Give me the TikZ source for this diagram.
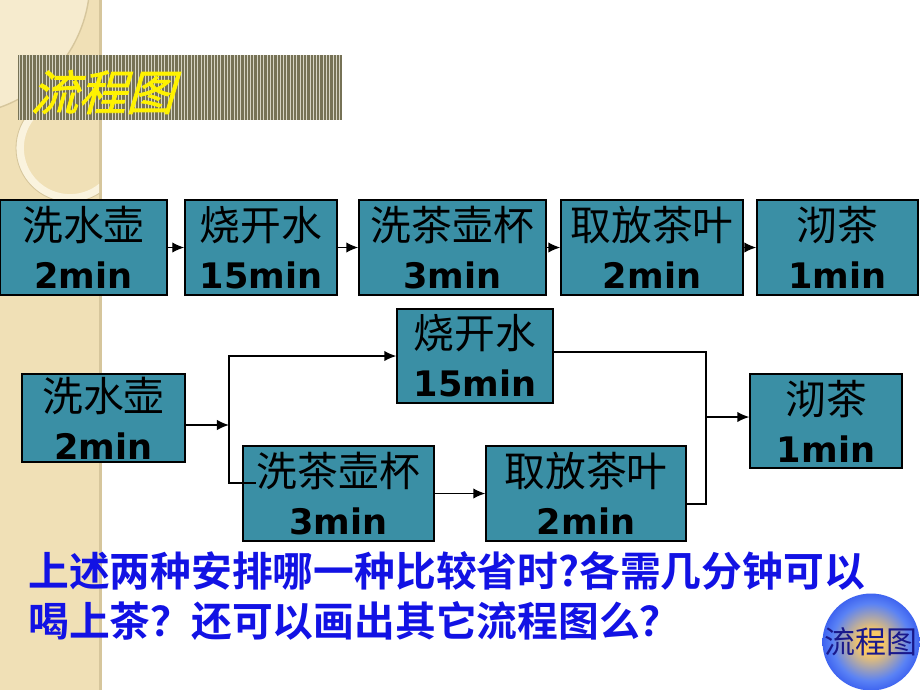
\documentclass[tikz,border=0pt]{standalone}
\usepackage{fontspec}
\usepackage{xcolor}
\usetikzlibrary{arrows,arrows.meta,shapes,calc}
\newfontfamily\cnfont{Noto Sans CJK SC}[BoldFont={Noto Sans CJK SC Bold}]
\newfontfamily\titlefont{Noto Sans CJK SC}[FakeSlant=0.3,FakeBold=1.5]
\newfontfamily\numfont{DejaVu Sans}
\definecolor{boxteal}{RGB}{58,143,165}
\definecolor{strip}{RGB}{240,224,182}
\definecolor{stripring}{RGB}{250,243,222}
\definecolor{stripedge}{RGB}{214,198,156}
\definecolor{titlebar}{RGB}{118,114,86}
\definecolor{titleline}{RGB}{214,212,196}
\definecolor{asktext}{RGB}{18,18,228}
\definecolor{btnin}{RGB}{250,200,100}
\definecolor{btnmid}{RGB}{90,130,245}
\definecolor{btnout}{RGB}{35,70,235}
\definecolor{btntext}{RGB}{25,25,140}
\newcommand{\pxu}{0.025cm}
\newcommand{\tasktext}[2]{{\cnfont #1}\\{\numfont\bfseries\fontsize{25}{34}\selectfont #2}}
\pgfdeclareradialshading{btnshade}{\pgfpoint{0bp}{0bp}}{color(0bp)=(btnin); color(6bp)=(btnin); color(20bp)=(btnmid); color(30bp)=(btnout); color(50bp)=(btnout)}

\begin{document}
\begin{tikzpicture}[x=\pxu,y=-\pxu]
      \tikzstyle{task}=[draw=black, line width=1pt, fill=boxteal, inner sep=0pt, align=center, font=\fontsize{29}{34}\selectfont]
      \tikzstyle{link}=[line width=1pt]
      \tikzstyle{arrow}=[line width=1pt, -{Latex[length=3mm,width=2.6mm]}]
      \tikzstyle{ask}=[text=asktext, inner sep=0pt, align=left, font=\cnfont\bfseries\fontsize{29}{36}\selectfont]
      \useasboundingbox (0,0) rectangle (920,690);

      % background and left strip
      \fill[white] (0,0) rectangle (920,690);
      \fill[strip] (0,0) rectangle (101,690);
      \fill[stripedge] (99,0) rectangle (102,690);
      \begin{scope}
        \clip (0,0) rectangle (99,690);
        \fill[stripring, opacity=0.6] (-45,-20) circle[radius=135];
        \draw[stripedge, line width=1pt] (-45,-20) circle[radius=135];
        \draw[stripring, line width=5.5pt] (70,148) circle[radius=50];
        \draw[stripedge, line width=0.6pt] (70,148) circle[radius=54];
      \end{scope}

      % title bar
      \fill[titlebar] (18,55) rectangle (342,120);
      \foreach \i in {0,...,97}
        \draw[titleline, line width=0.5pt] ({19.5+\i*3.3},55) -- ({19.5+\i*3.3},120);
      \node[text=yellow, inner sep=0pt, anchor=west, font=\titlefont\fontsize{34}{34}\selectfont] (ttl) at (30,92) {流程图};

      % first arrangement
      \node[task, minimum width=167*\pxu, minimum height=95*\pxu] (A1) at (83.5,247.5) {\tasktext{洗水壶}{2min}};
      \node[task, minimum width=152*\pxu, minimum height=95*\pxu] (A2) at (261,247.5) {\tasktext{烧开水}{15min}};
      \node[task, minimum width=187*\pxu, minimum height=95*\pxu] (A3) at (452.5,247.5) {\tasktext{洗茶壶杯}{3min}};
      \node[task, minimum width=182*\pxu, minimum height=95*\pxu] (A4) at (652,247.5) {\tasktext{取放茶叶}{2min}};
      \node[task, minimum width=161*\pxu, minimum height=95*\pxu] (A5) at (837.5,247.5) {\tasktext{沏茶}{1min}};

      \draw[arrow] (A1) -- (A2);
      \draw[arrow] (A2) -- (A3);
      \draw[arrow] (A3) -- (A4);
      \draw[arrow] (A4) -- (A5);

      % second arrangement
      \node[task, minimum width=163*\pxu, minimum height=88*\pxu] (B1) at (103.5,418) {\tasktext{洗水壶}{2min}};
      \node[task, minimum width=156*\pxu, minimum height=94*\pxu] (B2) at (475,356) {\tasktext{烧开水}{15min}};
      \node[task, minimum width=191*\pxu, minimum height=95*\pxu] (B3) at (338.5,493.5) {\tasktext{洗茶壶杯}{3min}};
      \node[task, minimum width=200*\pxu, minimum height=95*\pxu] (B4) at (586,493.5) {\tasktext{取放茶叶}{2min}};
      \node[task, minimum width=152*\pxu, minimum height=94*\pxu] (B5) at (826,421) {\tasktext{沏茶}{1min}};

      \coordinate (s1) at (229,425);
      \coordinate (s2) at (229,483);
      \coordinate (j1) at (706,352);
      \coordinate (j2) at (706,504);
      \coordinate (j3) at (706,417);

      \draw[arrow] (B1.east |- s1) -- (s1);
      \draw[arrow] (s1) |- (B2.west);
      \draw[link] (s1) -- (s2) -- ($(s2 -| B3.west)+(14,0)$);
      \draw[arrow] (B3) -- (B4);
      \draw[link] (B2.east |- j1) -- (j1) -- (j2) -- (j2 -| B4.east);
      \draw[arrow] (j3) -- (j3 -| B5.west);

      % question
      \node[ask, anchor=west] (q) at (28,596) {上述两种安排哪一种比较省时?各需几分钟可以\\喝上茶？还可以画出其它流程图么？};

      % button
      \node[circle, shading=btnshade, minimum size=96*\pxu, inner sep=0pt, text=btntext, font=\cnfont\fontsize{22}{22}\selectfont] (btn) at (871,642) {流程图};
\end{tikzpicture}
\end{document}
